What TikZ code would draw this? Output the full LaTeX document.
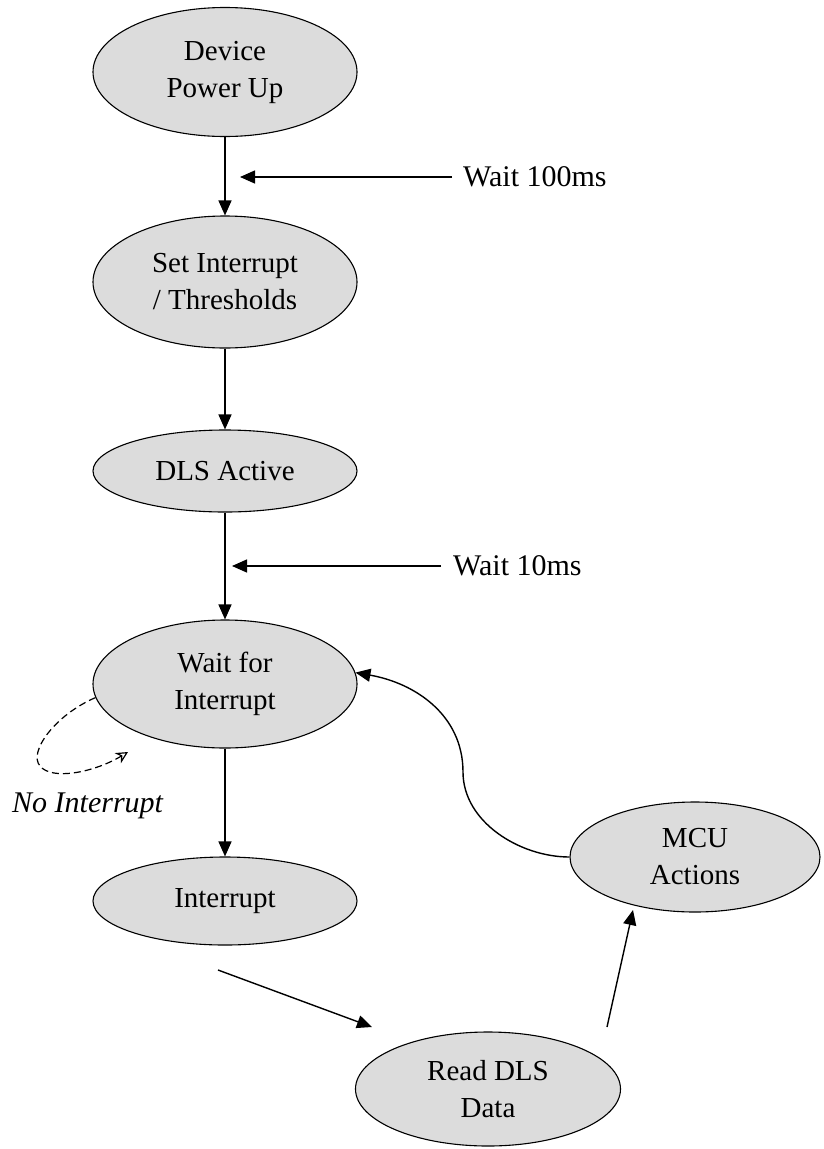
\documentclass[tikz,border=0pt]{standalone}
\usepackage{fontspec}
\setmainfont{Liberation Serif}
\usetikzlibrary{shapes.geometric,arrows.meta}
\definecolor{statefill}{HTML}{DCDCDC}
\begin{document}
\begin{tikzpicture}[x=1pt,y=-1pt,
  state/.style={ellipse, draw=black, line width=1.1pt, fill=statefill, inner sep=0pt,
    align=center, font=\fontsize{29}{37}\selectfont},
  lbl/.style={font=\fontsize{30}{36}\selectfont, inner sep=0pt, anchor=west},
  arr/.style={-{Triangle[length=15pt,width=13pt]}, line width=1.4pt},
  dasharr/.style={-{Stealth[open,length=12pt,width=12pt]}, line width=1.2pt, dash pattern=on 7pt off 4pt}]
\useasboundingbox (0,0) rectangle (823,1149);

\node[state, minimum width=264pt, minimum height=129pt] (A) at (225,72) {Device\\Power Up};
\node[state, minimum width=264pt, minimum height=132pt] (B) at (225,282) {Set Interrupt\\/ Thresholds};
\node[state, minimum width=264pt, minimum height=82pt] (C) at (225,471) {DLS Active};
\node[state, minimum width=264pt, minimum height=128pt] (D) at (225,684) {Wait for\\Interrupt};
\node[state, minimum width=264pt, minimum height=88pt] (E) at (225,901) {Interrupt};
\node[state, minimum width=265pt, minimum height=114pt] (F) at (488,1089) {Read DLS\\Data};
\node[state, minimum width=250pt, minimum height=110pt] (G) at (695,857) {MCU\\Actions};

\node[lbl] (w1) at (463,177) {Wait 100ms};
\node[lbl] (w2) at (453,566) {Wait 10ms};
\node[font=\itshape\fontsize{30}{34}\selectfont, inner sep=0pt, anchor=base west] (ni) at (12,812) {No Interrupt};

\coordinate (t1) at (240,177);
\coordinate (t2) at (232,566);
\coordinate (s1) at (218,970);
\coordinate (e1) at (372,1027);
\coordinate (s2) at (607,1027);
\coordinate (e2) at (633,910);
\coordinate (e3) at (128,752);

\draw[arr] (A.south) -- (B.north);
\draw[arr] (B.south) -- (C.north);
\draw[arr] (C.south) -- (D.north);
\draw[arr] (D.south) -- (E.north);
\draw[arr] ([xshift=-11pt]w1.west) -- (t1);
\draw[arr] ([xshift=-12pt]w2.west) -- (t2);
\draw[arr] (s1) -- (e1);
\draw[arr] (s2) -- (e2);
\draw[arr] (G.west) .. controls (520,857) and (463,822) .. (463,772)
  .. controls (463,715) and (415,683) .. (D.5);
\draw[dasharr] (D.186) .. controls (55,715) and (28,752) .. (40,766)
  .. controls (52,781) and (95,772) .. (e3);
\end{tikzpicture}
\end{document}
